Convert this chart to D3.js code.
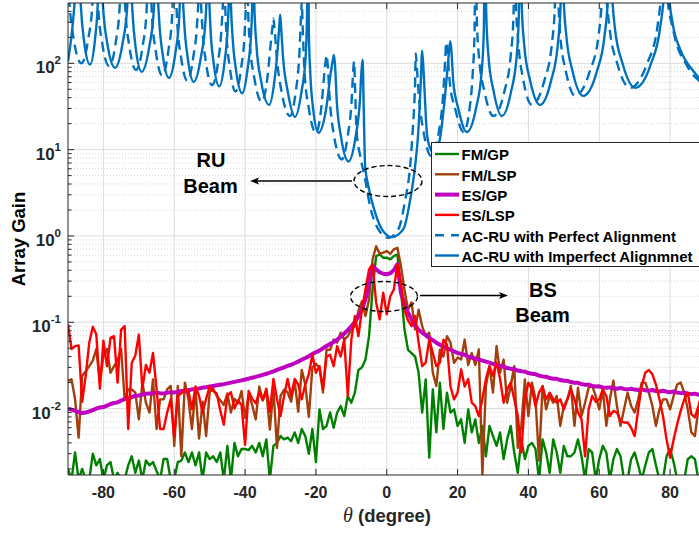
<!DOCTYPE html>
<html><head><meta charset="utf-8">
<script src="https://cdn.jsdelivr.net/npm/d3@7"></script>
<style>body{margin:0;background:#fff;} svg{display:block;font-family:"Liberation Sans",Arial,Helvetica,sans-serif;}</style>
</head><body>
<svg id="chart" width="699" height="533"></svg>
<script>
// Steering angle grid (1 degree sampling) for the BS beam curves
const angles = d3.range(-90, 91);

const fmGP = [
 0.002,0.0015,0.0031,0.0015,0.002,0.0015,0.0015,0.003,0.0022,0.0026,
 0.0015,0.0022,0.0024,0.0015,0.0018,0.0015,0.0015,0.0022,0.0028,0.0018,
 0.0025,0.0015,0.0025,0.0022,0.0024,0.0019,0.0015,0.0026,0.0026,0.0015,
 0.0015,0.0024,0.0025,0.0031,0.0024,0.0031,0.0022,0.0031,0.0015,0.0031,
 0.0026,0.0028,0.0024,0.0031,0.0015,0.0037,0.0015,0.004,0.0028,0.0034,
 0.0034,0.0033,0.0037,0.0031,0.004,0.0028,0.0044,0.0015,0.0037,0.004,
 0.0048,0.0044,0.0046,0.0042,0.0053,0.004,0.0058,0.0048,0.003,0.0058,
 0.0024,0.0098,0.0058,0.0063,0.009,0.006,0.009,0.0107,0.0082,0.014,
 0.0117,0.0153,0.028,0.030,0.037,0.069,0.24,0.585,0.61,0.56,
 0.56,0.535,0.585,0.61,0.24,0.083,0.048,0.044,0.040,0.026,
 0.009,0.0218,0.0027,0.0167,0.0053,0.020,0.0058,0.0153,0.009,0.0098,
 0.0063,0.0075,0.004,0.0098,0.0053,0.0075,0.004,0.0063,0.0028,0.0063,
 0.0048,0.0037,0.0053,0.0026,0.0044,0.0063,0.0031,0.0018,0.0044,0.0026,
 0.0037,0.004,0.0034,0.0015,0.0044,0.0031,0.0018,0.0044,0.0031,0.0018,
 0.0037,0.0028,0.0028,0.0031,0.0044,0.0028,0.0015,0.0034,0.0031,0.0015,
 0.0026,0.0037,0.0031,0.0015,0.0026,0.0034,0.0028,0.0015,0.0015,0.0026,
 0.0031,0.0022,0.0015,0.0022,0.0031,0.0034,0.0022,0.0015,0.0015,0.0028,
 0.0034,0.0024,0.0015,0.0015,0.0015,0.0026,0.0028,0.0026,0.0015,0.0015,0.002
];

const fmLSP = [
 0.021,0.0218,0.0128,0.0046,0.024,0.027,0.031,0.036,0.049,0.020,
 0.041,0.049,0.026,0.031,0.036,0.049,0.0128,0.0167,0.0167,0.0153,
 0.0075,0.020,0.0117,0.009,0.0218,0.0058,0.0128,0.0128,0.0167,0.0183,
 0.0037,0.0183,0.0028,0.020,0.0128,0.0058,0.0167,0.0045,0.012,0.0048,
 0.0155,0.017,0.014,0.0125,0.011,0.015,0.009,0.013,0.0115,0.016,
 0.0078,0.0145,0.011,0.0075,0.018,0.0125,0.016,0.0057,0.017,0.0035,
 0.014,0.0165,0.0155,0.012,0.021,0.0092,0.028,0.019,0.008,0.030,
 0.033,0.030,0.0153,0.048,0.048,0.063,0.058,0.0757,0.063,0.069,
 0.083,0.09,0.135,0.176,0.118,0.184,0.535,0.76,0.62,0.64,
 0.67,0.62,0.70,0.73,0.45,0.24,0.14,0.17,0.083,0.14,
 0.09,0.069,0.0757,0.026,0.0183,0.048,0.040,0.069,0.058,0.034,
 0.039,0.037,0.063,0.032,0.044,0.032,0.0486,0.0017,0.0183,0.031,
 0.0153,0.053,0.026,0.037,0.0117,0.0183,0.031,0.0035,0.0063,0.0218,
 0.0082,0.020,0.0128,0.0025,0.0183,0.0098,0.014,0.0117,0.014,0.0063,
 0.0107,0.0128,0.0183,0.0063,0.0175,0.0082,0.0117,0.0175,0.0183,0.014,
 0.0098,0.0167,0.0063,0.0128,0.021,0.0107,0.0063,0.0098,0.0153,0.0107,
 0.009,0.0128,0.020,0.020,0.0153,0.0107,0.0063,0.0098,0.0128,0.0128,
 0.0098,0.014,0.019,0.020,0.0153,0.0098,0.0053,0.0048,0.0098,0.0117,0.014
];

const esGP = [
 0.0100,0.0097,0.0094,0.0091,0.0089,0.0090,0.0093,0.0096,0.0100,0.0103,
 0.0104,0.0108,0.0113,0.0116,0.0118,0.0124,0.0129,0.0131,0.0136,0.0141,
 0.0142,0.0145,0.0149,0.0150,0.0151,0.0153,0.0151,0.0150,0.0152,0.0155,
 0.0154,0.0156,0.0160,0.0161,0.0163,0.0167,0.0168,0.0171,0.0175,0.0177,
 0.0180,0.0183,0.0186,0.0189,0.0192,0.0196,0.0200,0.0204,0.0208,0.0212,
 0.0217,0.0222,0.0228,0.0233,0.0239,0.0246,0.0253,0.0261,0.0270,0.0280,
 0.0290,0.0300,0.0312,0.0322,0.0335,0.0350,0.0368,0.0385,0.0405,0.0428,
 0.045,0.047,0.050,0.053,0.056,0.059,0.063,0.068,0.074,0.081,
 0.090,0.101,0.117,0.140,0.185,0.28,0.45,0.41,0.38,0.365,
 0.36,0.37,0.40,0.47,0.22,0.16,0.13,0.108,0.092,0.082,
 0.076,0.071,0.066,0.062,0.058,0.055,0.052,0.050,0.048,0.046,
 0.044,0.043,0.042,0.040,0.039,0.038,0.037,0.036,0.035,0.0340,
 0.0330,0.0318,0.0312,0.0306,0.0295,0.0290,0.0286,0.0276,0.0271,0.0268,
 0.0258,0.0253,0.0250,0.0241,0.0236,0.0234,0.0226,0.0222,0.0221,0.0214,
 0.0210,0.0210,0.0203,0.0199,0.0199,0.0192,0.0189,0.0189,0.0183,0.0180,
 0.0181,0.0176,0.0174,0.0176,0.0172,0.0170,0.0173,0.0169,0.0167,0.0170,
 0.0166,0.0164,0.0167,0.0163,0.0161,0.0164,0.0160,0.0158,0.0161,0.0157,
 0.0155,0.0158,0.0153,0.0151,0.0153,0.0149,0.0147,0.0149,0.0145,0.0143,0.0145
];

const esLSP = [
 0.095,0.049,0.053,0.054,0.012,0.024,0.058,0.089,0.072,0.017,
 0.061,0.031,0.066,0.069,0.020,0.082,0.090,0.0058,0.034,0.041,
 0.072,0.017,0.032,0.026,0.044,0.017,0.0058,0.0058,0.009,0.0128,
 0.0048,0.014,0.015,0.0167,0.016,0.0098,0.018,0.014,0.009,0.013,
 0.018,0.016,0.015,0.0095,0.0065,0.014,0.0155,0.010,0.0125,0.011,
 0.0038,0.016,0.013,0.0115,0.0155,0.0125,0.017,0.0092,0.022,0.013,
 0.0082,0.014,0.022,0.014,0.022,0.019,0.0128,0.019,0.025,0.042,
 0.026,0.031,0.017,0.040,0.042,0.031,0.053,0.040,0.063,0.014,
 0.063,0.118,0.069,0.14,0.24,0.41,0.47,0.17,0.108,0.22,
 0.124,0.20,0.24,0.47,0.29,0.14,0.105,0.09,0.118,0.058,
 0.031,0.034,0.063,0.044,0.031,0.034,0.063,0.055,0.018,0.0128,
 0.0153,0.0285,0.018,0.022,0.0117,0.0107,0.0082,0.0128,0.022,0.031,
 0.024,0.034,0.022,0.0117,0.0167,0.020,0.0128,0.0082,0.0031,0.0128,
 0.020,0.0167,0.0107,0.0153,0.018,0.0128,0.0153,0.0128,0.0117,0.0128,
 0.0098,0.0128,0.0167,0.0128,0.009,0.0075,0.0028,0.0098,0.014,0.012,
 0.0128,0.0167,0.014,0.0082,0.0094,0.009,0.0072,0.0069,0.0069,0.006,
 0.0048,0.0098,0.0183,0.026,0.028,0.025,0.019,0.0128,0.0082,0.0044,
 0.0027,0.0044,0.0066,0.0094,0.0128,0.0153,0.0086,0.0079,0.0107,0.0153,0.018
];

// RU array gain (sampled more densely around the grating peaks)
const ruPerfectAngle = [
 -90,-89.6,-88.4,-86.2,-84.3,-83.1,-82.6,-82.3,
 -82.0,-81.5,-80.4,-78.4,-76.5,-75.4,-74.9,-74.6,
 -74.3,-73.8,-72.7,-70.8,-68.9,-67.8,-67.3,-67.0,
 -66.7,-66.3,-65.2,-63.4,-61.7,-60.6,-60.2,-59.9,
 -59.6,-59.2,-58.1,-56.3,-54.6,-53.5,-53.0,-52.8,
 -52.6,-52.1,-51.1,-49.3,-47.6,-46.6,-46.1,-45.9,
 -45.7,-45.3,-44.3,-42.7,-41.1,-40.1,-39.7,-39.5,
 -39.2,-38.7,-37.4,-35.3,-33.7,-32.7,-32.2,-32.0,
 -31.7,-31.1,-29.7,-27.3,-25.7,-24.7,-24.2,-24.0,
 -23.7,-23.2,-22.0,-20.0,-18.5,-17.6,-17.2,-17.0,
 -16.7,-16.1,-14.9,-12.7,-11.0,-9.9,-9.5,-9.2,
 -9.0,-8.5,-7.5,-6.1,-4.7,-2.4,0.5,3.3,5.2,6.6,7.3,8.0,8.2,
 8.5,9.1,10.4,12.5,14.7,15.9,16.5,16.8,
 17.1,17.8,19.3,21.7,23.4,24.3,24.8,25.0,
 25.4,26.0,27.6,30.1,33.2,35.0,35.8,36.2,
 36.5,37.2,38.6,41.0,44.5,46.6,47.5,48.0,
 48.4,49.0,50.6,53.2,57.3,59.8,60.8,61.4,
 61.9,62.9,65.1,68.7,73.5,76.4,77.6,78.3,
 78.9,81.0,84.7,88.0,90
];
const ruPerfectGain = [
 900,500,190,100,190,500,1500,3000,
 1400,465,177,93,177,465,1400,3000,
 1260,420,160,84,160,420,1260,3000,
 1080,360,137,72,137,360,1080,3000,
 945,315,120,63,120,315,945,3000,
 840,280,106,56,106,280,840,3000,
 705,235,89,47,89,235,705,3000,
 540,180,68,36,68,180,280,330,
 260,122,47,24.5,47,122,360,520,
 235,78,30,15.7,30,78,110,125,
 100,38,14.6,7.7,14.6,38,80,105,
 60,16,8.5,4.5,2.2,1.2,0.95,1.2,2.6,6.4,16,60,130,
 90,40,16,8.5,16,42,110,175,
 140,60,30,16,30,80,240,3000,
 370,123,47,24.5,47,123,370,3000,
 495,165,63,33,63,165,495,3000,
 630,210,80,42,80,210,630,3000,
 780,260,99,52,99,260,780,3000,
 800,230,95,64,57
];

const ruImperfectAngle = [
 -90,-88.9,-88.0,-87.1,
 -86.9,-86.4,-85.5,-83.8,-82.4,-81.6,-81.2,-81.0,
 -80.7,-80.1,-78.9,-76.7,-74.6,-73.3,-72.8,-72.5,
 -72.3,-71.8,-70.9,-69.2,-67.1,-65.8,-65.3,-65.0,
 -64.8,-64.3,-63.3,-61.5,-59.7,-58.6,-58.2,-57.9,
 -57.7,-57.2,-56.2,-54.5,-52.5,-51.2,-50.7,-50.4,
 -50.2,-49.8,-48.9,-47.3,-45.8,-44.9,-44.5,-44.3,
 -44.1,-43.6,-42.6,-40.8,-39.3,-38.3,-37.9,-37.7,
 -37.4,-36.8,-35.5,-33.2,-31.7,-30.7,-30.3,-30.1,
 -29.8,-29.3,-27.9,-25.9,-24.1,-22.9,-22.5,-22.2,
 -22.0,-21.6,-20.8,-19.3,-17.1,-15.8,-15.2,-14.9,
 -14.6,-14.1,-12.9,-10.8,-8.8,-7.6,-7.1,-6.8,
 -6.5,-6.1,-5.2,-3.8,-1.4,1.4,4.7,6.6,8.0,8.9,9.6,10.0,
 10.4,10.8,11.3,12.2,13.5,15.1,16.4,17.3,17.9,
 18.2,18.8,20.2,22.6,25.2,26.8,27.4,27.8,
 28.1,28.7,30.2,32.5,35.1,36.7,37.3,37.7,
 38.1,38.8,40.5,43.3,46.4,48.3,49.1,49.5,
 49.9,50.7,52.5,55.5,59.3,61.5,62.5,63.0,
 63.5,64.4,66.6,70.2,74.6,77.2,78.4,79.0,
 79.6,80.8,82.9,86.6,88.2,90
];
const ruImperfectGain = [
 105,230,600,3000,
 1450,485,185,97,185,485,1450,3000,
 1335,445,170,89,170,445,1335,3000,
 1200,400,152,80,152,400,1200,3000,
 1020,340,130,68,130,340,1020,3000,
 915,305,116,61,116,305,915,3000,
 810,270,103,54,103,270,810,3000,
 675,225,86,45,86,225,675,3000,
 495,165,63,33,63,165,290,366,
 250,120,46,24,46,120,360,3000,
 235,78,30,15.7,30,78,110,125,
 95,36,14,7.3,14,36,85,110,
 30,6.4,3.8,2.2,1.2,0.97,1.2,2.6,6.4,16,60,140,
 80,38,16,10.5,9,14,40,100,180,
 150,60,30,16,30,80,240,3000,
 370,123,47,24.5,47,123,370,3000,
 495,165,63,33,63,165,495,3000,
 630,210,80,42,80,210,630,3000,
 780,260,99,52,99,260,780,3000,
 700,280,144,81,68,62
];

const xTicks = [-80, -60, -40, -20, 0, 20, 40, 60, 80];
const yExponents = [-2, -1, 0, 1, 2];
const legendLabels = ["FM/GP", "FM/LSP", "ES/GP", "ES/LSP",
  "AC-RU with Perfect Alignment", "AC-RU with Imperfect Alignmnet"];

const svg = d3.select("#chart");
const box = {left: 68, right: 705.5, top: 3, bottom: 475};
const x = d3.scaleLinear().domain([-90, 90]).range([box.left, box.right]);
const y = d3.scaleLog().domain([1.7e-3, 500]).range([box.bottom, box.top]);
const axisColor = "#262626";

svg.append("rect").attr("width", 699).attr("height", 533).attr("fill", "#fff");

// grid
const grid = svg.append("g");
const minorVals = [];
for (let e = -3; e <= 2; e++) for (let m = 2; m <= 9; m++) {
  const v = m * Math.pow(10, e);
  if (v > 1.7e-3 && v < 500) minorVals.push(v);
}
grid.selectAll(".ymin").data(minorVals).join("line")
  .attr("x1", box.left).attr("x2", box.right)
  .attr("y1", d => y(d)).attr("y2", d => y(d))
  .attr("stroke", "#c9c9c9").attr("stroke-width", 0.8).attr("stroke-dasharray", "1,2");
grid.selectAll(".ymaj").data(yExponents).join("line")
  .attr("x1", box.left).attr("x2", box.right)
  .attr("y1", d => y(Math.pow(10, d))).attr("y2", d => y(Math.pow(10, d)))
  .attr("stroke", "#dcdcdc").attr("stroke-width", 1);
grid.selectAll(".xmaj").data(xTicks).join("line")
  .attr("x1", d => x(d)).attr("x2", d => x(d))
  .attr("y1", box.top).attr("y2", box.bottom)
  .attr("stroke", "#dcdcdc").attr("stroke-width", 1);

// plot clip
svg.append("clipPath").attr("id", "plotClip").append("rect")
  .attr("x", box.left).attr("y", box.top)
  .attr("width", box.right - box.left).attr("height", box.bottom - box.top);
const plot = svg.append("g").attr("clip-path", "url(#plotClip)");

const noisyLine = d3.line().x(d => x(d[0])).y(d => y(d[1]));
const smoothLine = d3.line().x(d => x(d[0])).y(d => y(d[1])).curve(d3.curveMonotoneX);

const series = [
  {vals: fmGP, color: "#008000", w: 2.4},
  {vals: fmLSP, color: "#a33f0c", w: 2.4},
  {vals: esGP, color: "#bf00bf", w: 4},
  {vals: esLSP, color: "#ff0000", w: 2.4}
];
series.forEach(s => {
  plot.append("path")
    .attr("d", noisyLine(angles.map((a, i) => [a, s.vals[i]])))
    .attr("fill", "none").attr("stroke", s.color).attr("stroke-width", s.w)
    .attr("stroke-linejoin", "round");
});
plot.append("path")
  .attr("d", smoothLine(ruPerfectAngle.map((a, i) => [a, ruPerfectGain[i]])))
  .attr("fill", "none").attr("stroke", "#0072bd").attr("stroke-width", 2.4)
  .attr("stroke-dasharray", "10,6");
plot.append("path")
  .attr("d", smoothLine(ruImperfectAngle.map((a, i) => [a, ruImperfectGain[i]])))
  .attr("fill", "none").attr("stroke", "#0072bd").attr("stroke-width", 2.4);

// axes frame and ticks
const ax = svg.append("g").attr("stroke", axisColor).attr("stroke-width", 1);
ax.append("line").attr("x1", box.left).attr("x2", box.left).attr("y1", box.top).attr("y2", box.bottom);
ax.append("line").attr("x1", box.left).attr("x2", box.right).attr("y1", box.bottom).attr("y2", box.bottom);
ax.append("line").attr("x1", box.left).attr("x2", box.right).attr("y1", box.top).attr("y2", box.top);
xTicks.forEach(t => {
  ax.append("line").attr("x1", x(t)).attr("x2", x(t)).attr("y1", box.bottom).attr("y2", box.bottom - 6);
  ax.append("line").attr("x1", x(t)).attr("x2", x(t)).attr("y1", box.top).attr("y2", box.top + 6);
});
yExponents.forEach(e => {
  ax.append("line").attr("x1", box.left).attr("x2", box.left + 6)
    .attr("y1", y(Math.pow(10, e))).attr("y2", y(Math.pow(10, e)));
});
minorVals.forEach(v => {
  ax.append("line").attr("x1", box.left).attr("x2", box.left + 3.5).attr("y1", y(v)).attr("y2", y(v));
});

// tick labels
svg.append("g").selectAll("text").data(xTicks).join("text")
  .attr("x", d => x(d)).attr("y", box.bottom + 23)
  .attr("text-anchor", "middle").attr("font-size", 16).attr("font-weight", "bold")
  .attr("fill", axisColor).text(d => d);
const yl = svg.append("g").selectAll("text").data(yExponents).join("text")
  .attr("x", 61).attr("y", d => y(Math.pow(10, d)) + 10)
  .attr("text-anchor", "end").attr("font-size", 17).attr("font-weight", "bold")
  .attr("fill", axisColor);
yl.append("tspan").text("10");
yl.append("tspan").attr("dy", -9).attr("font-size", 11.5).text(d => d);

// axis titles
const xt = svg.append("text").attr("x", 387).attr("y", 522).attr("text-anchor", "middle")
  .attr("fill", axisColor).attr("font-size", 18.5).attr("font-weight", "bold");
xt.append("tspan").attr("font-family", "'Liberation Serif','DejaVu Serif',serif")
  .attr("font-style", "italic").attr("font-weight", "normal").attr("font-size", 20).text("θ");
xt.append("tspan").text(" (degree)");
svg.append("text").attr("transform", "translate(25,239) rotate(-90)")
  .attr("text-anchor", "middle").attr("font-size", 18.5).attr("font-weight", "bold")
  .attr("fill", "#000").text("Array Gain");

// legend
const lg = svg.append("g");
lg.append("rect").attr("x", 431.5).attr("y", 142.5).attr("width", 300).attr("height", 124)
  .attr("fill", "#fff").attr("stroke", axisColor).attr("stroke-width", 1);
const legendStyles = [
  {color: "#008000", w: 2.4}, {color: "#a33f0c", w: 2.4}, {color: "#bf00bf", w: 4},
  {color: "#ff0000", w: 2.4}, {color: "#0072bd", w: 2.4, dash: "9,7"}, {color: "#0072bd", w: 2.4}
];
legendLabels.forEach((lab, i) => {
  const cy = 155 + i * 20.3;
  lg.append("line").attr("x1", 435).attr("x2", 459).attr("y1", cy - 1).attr("y2", cy - 1)
    .attr("stroke", legendStyles[i].color).attr("stroke-width", legendStyles[i].w)
    .attr("stroke-dasharray", legendStyles[i].dash || null);
  lg.append("text").attr("x", 461.5).attr("y", cy + 5.3)
    .attr("font-size", 15).attr("font-weight", "bold").attr("fill", "#000").text(lab);
});

// annotations
const ann = svg.append("g");
ann.append("ellipse").attr("cx", 388).attr("cy", 181).attr("rx", 34).attr("ry", 15.5)
  .attr("fill", "none").attr("stroke", "#000").attr("stroke-width", 1.4).attr("stroke-dasharray", "5,3");
ann.append("ellipse").attr("cx", 384).attr("cy", 296.5).attr("rx", 33.5).attr("ry", 15)
  .attr("fill", "none").attr("stroke", "#000").attr("stroke-width", 1.4).attr("stroke-dasharray", "5,3");
function arrow(x1, y1, x2, y2) {
  const dir = Math.sign(x2 - x1);
  ann.append("line").attr("x1", x1).attr("y1", y1).attr("x2", x2 - dir * 6).attr("y2", y2)
    .attr("stroke", "#000").attr("stroke-width", 1.3);
  ann.append("path")
    .attr("d", `M${x2},${y2} L${x2 - dir * 9},${y2 - 3.5} L${x2 - dir * 7},${y2} L${x2 - dir * 9},${y2 + 3.5} Z`)
    .attr("fill", "#000");
}
arrow(352, 181, 250, 181);
arrow(420, 295.5, 508, 295.5);
const annText = [["RU", 211, 166.5], ["Beam", 210.5, 193.3], ["BS", 543, 296.7], ["Beam", 542.5, 321.7]];
annText.forEach(t => ann.append("text").attr("x", t[1]).attr("y", t[2]).attr("text-anchor", "middle")
  .attr("font-size", 20).attr("font-weight", "bold").attr("fill", "#000").text(t[0]));
</script>
</body></html>
